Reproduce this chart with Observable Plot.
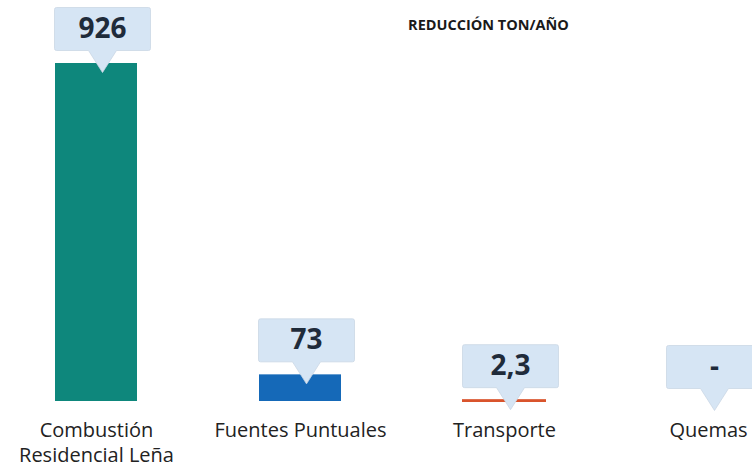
<!DOCTYPE html>
<html>
<head>
<meta charset="utf-8">
<script src="https://cdn.jsdelivr.net/npm/d3@7"></script>
<script src="https://cdn.jsdelivr.net/npm/@observablehq/plot@0.6"></script>
<style>
  html, body { margin: 0; padding: 0; background: #fff; }
  #chart svg { display: block; }
</style>
</head>
<body>
<div id="chart"></div>
<script>
const title = "REDUCCIÓN TON/AÑO";
const categories = ["Combustión\nResidencial Leña", "Fuentes Puntuales", "Transporte", "Quemas"];
const values = [926, 73, 2.3, 0];
const valueLabels = ["926", "73", "2,3", "-"];
const colors = ["#0e877c", "#1569b8", "#d5482c", "#ffffff"];

const data = categories.map((c, i) => ({cat: c, value: values[i], label: valueLabels[i], color: colors[i]}));

const callout = {
  draw(ctx) {
    const w = 48, h = 43, p = 22, k = 14, r = 2;
    ctx.moveTo(0, 0);
    ctx.lineTo(-k, -p);
    ctx.lineTo(-w + r, -p);
    ctx.quadraticCurveTo(-w, -p, -w, -p - r);
    ctx.lineTo(-w, -p - h + r);
    ctx.quadraticCurveTo(-w, -p - h, -w + r, -p - h);
    ctx.lineTo(w - r, -p - h);
    ctx.quadraticCurveTo(w, -p - h, w, -p - h + r);
    ctx.lineTo(w, -p - r);
    ctx.quadraticCurveTo(w, -p, w - r, -p);
    ctx.lineTo(k, -p);
    ctx.closePath();
  }
};

const chart = Plot.plot({
  width: 752,
  height: 468,
  marginTop: 63,
  marginBottom: 67,
  marginLeft: 0,
  marginRight: 0,
  style: {fontFamily: "'Open Sans', sans-serif", background: "#fff"},
  x: {domain: categories, range: [14.4, 789.6], paddingInner: 0.6, paddingOuter: 0.2, label: null},
  y: {domain: [0, 926], axis: null},
  marks: [
    Plot.barY(data, {x: "cat", y: "value", fill: "color", stroke: d => d.value > 0 && d.value < 10 ? "#d9542c" : "none", strokeWidth: 2}),
    Plot.dot(data, {x: "cat", y: "value", symbol: callout, r: 1, fill: "#d6e5f4", stroke: "#cad7e4", strokeWidth: 0.8, dx: 6, dy: 9}),
    Plot.text(data, {x: "cat", y: "value", text: "label", dx: 6, dy: 9 - 22 - 21.5, fontSize: 28, fontWeight: 700, fill: "#1f2b3a"}),
    Plot.axisX({tickSize: 0, tickPadding: 18, fontSize: 20, lineHeight: 1.25, lineAnchor: "top", fill: "#222", tickFormat: d => d}),
    Plot.text([title], {frameAnchor: "top", dx: 112, dy: -44, fontSize: 14.5, fontWeight: 700, fill: "#1a1a1a"})
  ]
});
document.getElementById("chart").appendChild(chart);
</script>
</body>
</html>
